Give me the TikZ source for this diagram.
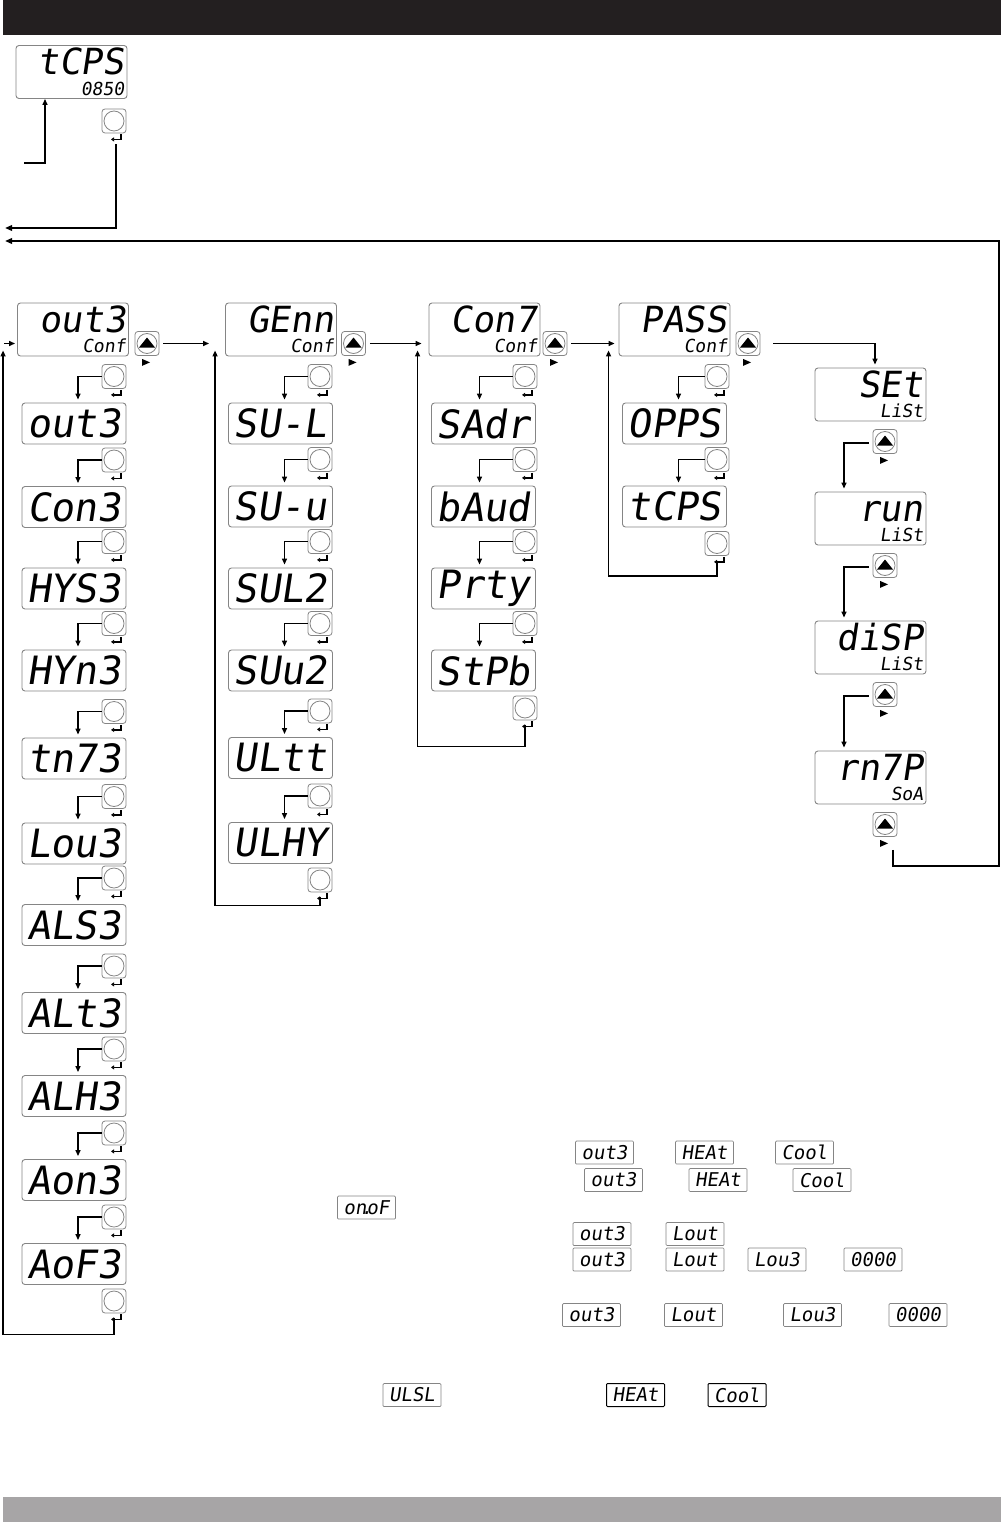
\documentclass[tikz,border=0pt]{standalone}
\usepackage{fontspec}
\usetikzlibrary{arrows.meta,calc,positioning}
\newfontfamily\segfont[FakeSlant=0.15]{DejaVu Sans Mono}
\newcommand\bigseg{\segfont\fontsize{39}{41}\selectfont}
\newcommand\headseg{\segfont\fontsize{36}{38}\selectfont}
\newcommand\subseg{\segfont\fontsize{18}{20}\selectfont}
\newcommand\miniseg{\segfont\fontsize{19}{21}\selectfont}
\definecolor{barblack}{HTML}{231F20}
\definecolor{bargrey}{HTML}{A7A5A6}
\definecolor{rim}{HTML}{858585}

\tikzset{
  disp/.style={draw=rim, line width=0.9pt, rounded corners=3pt, fill=white, inner sep=0pt},
  hdr/.style={disp, minimum width=111pt, minimum height=53pt},
  item/.style={disp, minimum width=104pt, minimum height=41pt, font=\bigseg},
  mini/.style={disp, rounded corners=1pt, line width=0.7pt, minimum width=58pt, minimum height=23pt, font=\miniseg},
  hard/.style={mini, draw=black, line width=1pt},
  bigtxt/.style={inner sep=0pt, font=\headseg, anchor=base east},
  subtxt/.style={inner sep=0pt, font=\subseg, anchor=base east},
  okbtn/.style={draw=rim, line width=0.8pt, rounded corners=3pt, minimum size=24pt, inner sep=0pt,
    path picture={\draw[rim, line width=0.8pt] (path picture bounding box.center) circle (10pt);}},
  upbtn/.style={okbtn, path picture={\draw[rim, line width=0.8pt] (path picture bounding box.center) circle (10pt);
    \fill[sharp corners] ([yshift=6pt]path picture bounding box.center) -- ++(-8pt,-10pt) -- ++(16pt,0pt) -- cycle;}},
  flow/.style={line width=1.4pt, -{Triangle[length=6pt,width=5pt]}},
  retsym/.style={line width=1.3pt, -{Triangle[length=3pt,width=4pt]}},
}

% display with big and small text
\newcommand\hdrdisp[4]{%
  \node[hdr] (#1) at (#2) {};
  \node[bigtxt] (#1t) at ([xshift=-3pt,yshift=24pt]#1.south east) {#3};
  \node[subtxt] (#1s) at ([xshift=-3pt,yshift=3.5pt]#1.south east) {#4};
}
% enter key with its return mark
\newcommand\okkey[2]{%
  \node[okbtn] (#1) at (#2) {};
  \draw[retsym] ([xshift=7pt,yshift=-1pt]#1.south) -- ++(0,5) -- ++(-10,0);
}
% up key with its small mark
\newcommand\upkey[2]{%
  \node[upbtn] (#1) at (#2) {};
  \fill ([xshift=-5pt,yshift=-3pt]#1.south) -- ++(8,3.5) -- ++(-8,3.5) -- cycle;
}

\begin{document}
\begin{tikzpicture}[x=1pt, y=-1pt]
\useasboundingbox (0,0) rectangle (1001,1522);
\fill[barblack] (3,0) rectangle (1001,35);
\fill[bargrey] (3,1497) rectangle (1001,1522);

%%%%% top display %%%%%
\hdrdisp{t0}{71.5,72}{tCPS}{0850}
\okkey{k0}{114,121}
\coordinate (entryT) at (24,163);
\coordinate (exitA) at (5,228);
\coordinate (exitB) at (5,241);
\coordinate (loopR) at (999,241);
\draw[flow] (entryT) -| ([xshift=-26.5pt]t0.south);
\draw[line width=1.8pt, -{Triangle[length=7pt,width=5.5pt]}] ([xshift=2pt,yshift=-11pt]k0.south) |- (exitA);

%%%%% menu heads %%%%%
\hdrdisp{h1}{73,329.5}{out3}{Conf}
\hdrdisp{h2}{281,329.5}{GEnn}{Conf}
\hdrdisp{h3}{484.5,329.5}{Con7}{Conf}
\hdrdisp{h4}{674.5,329.5}{PASS}{Conf}
\upkey{u1}{147,343.5}
\upkey{u2}{353.5,343.5}
\upkey{u3}{555,343.5}
\upkey{u4}{748,343.5}

%%%%% column 1 %%%%%
\foreach \lbl/\yc [count=\i] in {out3/423.5,Con3/507,HYS3/588.5,HYn3/670.5,tn73/758.5,Lou3/843.5,ALS3/925,ALt3/1013,ALH3/1096,Aon3/1180,AoF3/1264}{
  \node[item] (a\i) at (74,\yc) {\lbl};
  \okkey{ak\i}{114,\yc-47}
  \draw[flow] (ak\i.west) -| ([xshift=4pt,yshift=3pt]a\i.north);
}
\okkey{aend}{114,1301}
\draw[flow] ([yshift=-5pt]aend.south) -- ++(0,16) -| ([xshift=-14pt,yshift=6pt]h1.south west);
\draw[flow] ([xshift=-13pt]h1.west |- u1) -- ([xshift=-2pt]h1.west |- u1);

%%%%% column 2 %%%%%
\foreach \lbl/\yc [count=\i] in {SU-L/423.5,SU-u/506.5,SUL2/588.5,SUu2/670.5,ULtt/758,ULHY/843}{
  \node[item] (b\i) at (280.5,\yc) {\lbl};
  \okkey{bk\i}{320,\yc-47}
  \draw[flow] (bk\i.west) -| ([xshift=4pt,yshift=3pt]b\i.north);
}
\okkey{bend}{320,880}
\draw[flow] ([yshift=-5pt]bend.south) -- ++(0,8) -| ([xshift=-10pt,yshift=6pt]h2.south west);
\draw[flow] ([xshift=4pt]u1.east) -- ([xshift=-16pt]h2.west |- u1);

%%%%% column 3 %%%%%
\foreach \lbl/\yc [count=\i] in {SAdr/423.5,bAud/506.5,Prty/588.5,StPb/670.5}{
  \node[item] (c\i) at (483.5,\yc) {\lbl};
  \okkey{ck\i}{525,\yc-47}
  \draw[flow] (ck\i.west) -| ([xshift=-4pt,yshift=3pt]c\i.north);
}
\okkey{cend}{525,708}
\draw[flow] ([yshift=-5pt]cend.south) -- ++(0,21) -| ([xshift=-11pt,yshift=6pt]h3.south west);
\draw[flow] ([xshift=4pt]u2.east) -- ([xshift=-7pt]h3.west |- u2);

%%%%% column 4 %%%%%
\foreach \lbl/\yc [count=\i] in {OPPS/423.5,tCPS/506.5}{
  \node[item] (d\i) at (674.5,\yc) {\lbl};
  \okkey{dk\i}{717,\yc-47}
  \draw[flow] (dk\i.west) -| ([xshift=4pt,yshift=3pt]d\i.north);
}
\okkey{dend}{717,543.5}
\draw[flow] ([yshift=-5pt]dend.south) -- ++(0,15) -| ([xshift=-10pt,yshift=6pt]h4.south west);
\draw[flow] ([xshift=4pt]u3.east) -- ([xshift=-4pt]h4.west |- u3);

%%%%% lists %%%%%
\foreach \lblA/\lblB/\yc [count=\i] in {SEt/LiSt/394.5,run/LiSt/518.5,diSP/LiSt/647.5,rn7P/SoA/777.5}{
  \hdrdisp{r\i}{870.5,\yc}{\lblA}{\lblB}
  \upkey{ru\i}{885,\yc+47}
}
\draw[flow] ([xshift=13pt]u4.east) -| ([xshift=4.5pt,yshift=3pt]r1.north);
\foreach \i/\j in {1/2,2/3,3/4}
  \draw[flow] ([xshift=-4pt,yshift=-1.5pt]ru\i.west) -| ([xshift=-26.5pt,yshift=3pt]r\j.north);
\draw[line width=1.8pt, -{Triangle[length=7pt,width=5.5pt]}] ([xshift=8pt,yshift=-13pt]ru4.south) -- ++(0,16) -| (loopR) -- (exitB);

%%%%% small displays %%%%%
\foreach \lbl/\xc/\yc [count=\i] in {out3/604.5/1152.5,HEAt/704.5/1152.5,Cool/804.5/1152.5,
  out3/613.5/1180,HEAt/718/1180,Cool/822/1180,
  out3/602/1234,Lout/695/1234,
  out3/602/1259.5,Lout/695/1259.5,Lou3/777/1259.5,0000/873/1259.5,
  out3/591.5/1315,Lout/693.5/1315,Lou3/812.5/1315,0000/918/1315,
  ULSL/412/1395}
  \node[mini] (m\i) at (\xc,\yc) {\lbl};
\node[mini] (onof) at (366.5,1207.5) {on\kern-.3em.\kern-.3em oF};
\node[hard] (heat) at (635.5,1395) {HEAt};
\node[hard] (cool) at (737,1395) {Cool};

\end{tikzpicture}
\end{document}
